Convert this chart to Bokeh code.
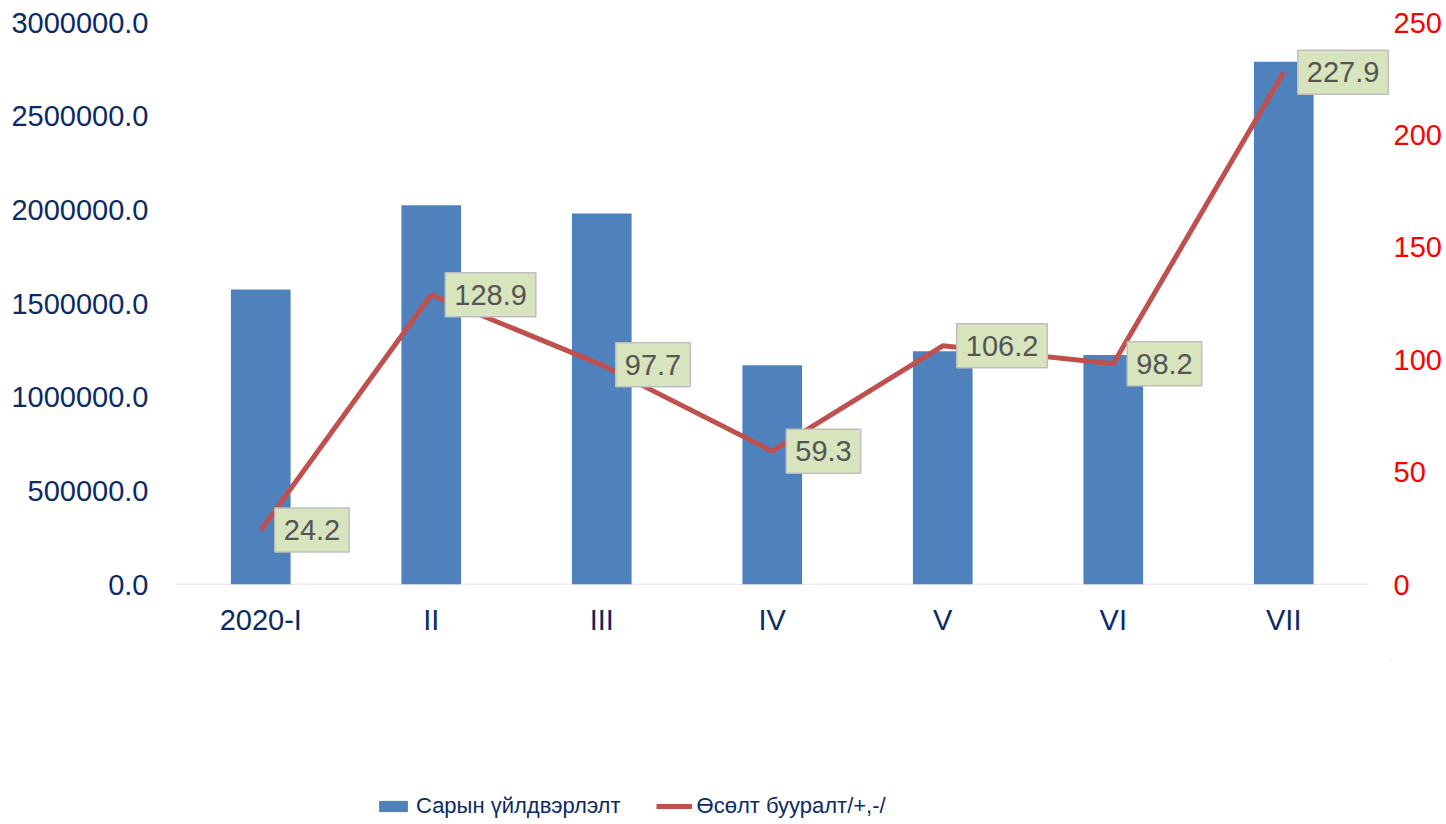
from bokeh.plotting import figure
from bokeh.layouts import column
from bokeh.models import (Range1d, LinearAxis, FixedTicker, NumeralTickFormatter,
                          Legend, LegendItem, ColumnDataSource)
from bokeh.core.properties import value
from bokeh.embed import file_html
from bokeh.resources import INLINE

categories = ["2020-I", "II", "III", "IV", "V", "VI", "VII"]
production = [1575000, 2025000, 1980000, 1170000, 1245000, 1225000, 2790000]
growth = [24.2, 128.9, 97.7, 59.3, 106.2, 98.2, 227.9]
growth_labels = ["24.2", "128.9", "97.7", "59.3", "106.2", "98.2", "227.9"]
left_ticks = [0, 500000, 1000000, 1500000, 2000000, 2500000, 3000000]
right_ticks = [0, 50, 100, 150, 200, 250]
series_names = ["Сарын үйлдвэрлэлт", "Өсөлт бууралт/+,-/"]

NAVY = "#0B2A66"
FONT = "Liberation Sans"
BAR = "#4F81BD"
LINE = "#C0504D"

xpos = [i + 0.5 for i in range(len(categories))]
src = ColumnDataSource(dict(x=xpos, prod=production, g=growth, lab=growth_labels))

W, H1, H2 = 1444, 660, 162
p = figure(x_range=Range1d(0, len(categories) + 0.126), y_range=Range1d(0, 3000000),
           width=W, height=H1, output_backend="svg", toolbar_location=None,
           min_border_left=175, min_border_right=W - 1390, min_border_top=22,
           min_border_bottom=H1 - 584)
p.extra_y_ranges = {"right": Range1d(0, 250)}
p.outline_line_color = None
p.xgrid.grid_line_color = None
p.ygrid.grid_line_color = None

# baseline (category axis line spanning the categories)
p.segment(x0=[0], x1=[len(categories)], y0=[0], y1=[0], line_color="#D9D9D9", line_width=1.5)

bars = p.vbar(x="x", top="prod", width=0.35, source=src, fill_color=BAR, line_color=None)
line = p.line(x="x", y="g", source=src, y_range_name="right", line_color=LINE, line_width=5)

p.text(x="x", y="g", text="lab", source=src, y_range_name="right",
       x_offset=14, text_align="left", text_baseline="middle",
       text_font=value(FONT), text_font_size="29px", text_color="#555555",
       background_fill_color="#D7E4BD", border_line_color="#BFBFBF", border_line_width=1.5,
       padding=(9, 12))

def style(ax, color, standoff):
    ax.axis_line_color = None
    ax.major_tick_line_color = None
    ax.minor_tick_line_color = None
    ax.major_tick_out = 0
    ax.major_tick_in = 0
    ax.minor_tick_out = 0
    ax.major_label_standoff = standoff
    ax.major_label_text_font = FONT
    ax.major_label_text_font_size = "29px"
    ax.major_label_text_color = color

ya = p.yaxis[0]
ya.ticker = FixedTicker(ticks=left_ticks)
ya.formatter = NumeralTickFormatter(format="0.0")
style(ya, NAVY, 27)

ra = LinearAxis(y_range_name="right", ticker=FixedTicker(ticks=right_ticks),
                formatter=NumeralTickFormatter(format="0"))
style(ra, "#FF0000", 3)
p.add_layout(ra, "right")

xa = p.xaxis[0]
xa.ticker = FixedTicker(ticks=xpos)
xa.major_label_overrides = {x: c for x, c in zip(xpos, categories)}
style(xa, NAVY, 19)

# legend strip below the chart (key glyphs reference the same series, kept out of view)
q = figure(x_range=Range1d(-3, -2), y_range=Range1d(-300, -299), width=W, height=H2,
           output_backend="svg", toolbar_location=None,
           min_border=0, x_axis_location=None, y_axis_location=None)
q.outline_line_color = None
q.xgrid.grid_line_color = None
q.ygrid.grid_line_color = None
kb = q.vbar(x="x", top="prod", width=0.35, source=src, fill_color=BAR, line_color=None)
kl = q.line(x="x", y="g", source=src, line_color=LINE, line_width=5)
legend = Legend(items=[LegendItem(label=series_names[0], renderers=[kb]),
                       LegendItem(label=series_names[1], renderers=[kl])],
                location=(200, 2), orientation="horizontal",
                glyph_width=36, glyph_height=14, label_standoff=5, spacing=35,
                padding=0, margin=0, label_height=28,
                label_text_font=FONT, label_text_font_size="22px",
                label_text_color=NAVY, border_line_color=None, background_fill_alpha=0)
q.add_layout(legend, "center")

layout = column(p, q, spacing=0)
open("out.html", "w").write(file_html(layout, INLINE))
